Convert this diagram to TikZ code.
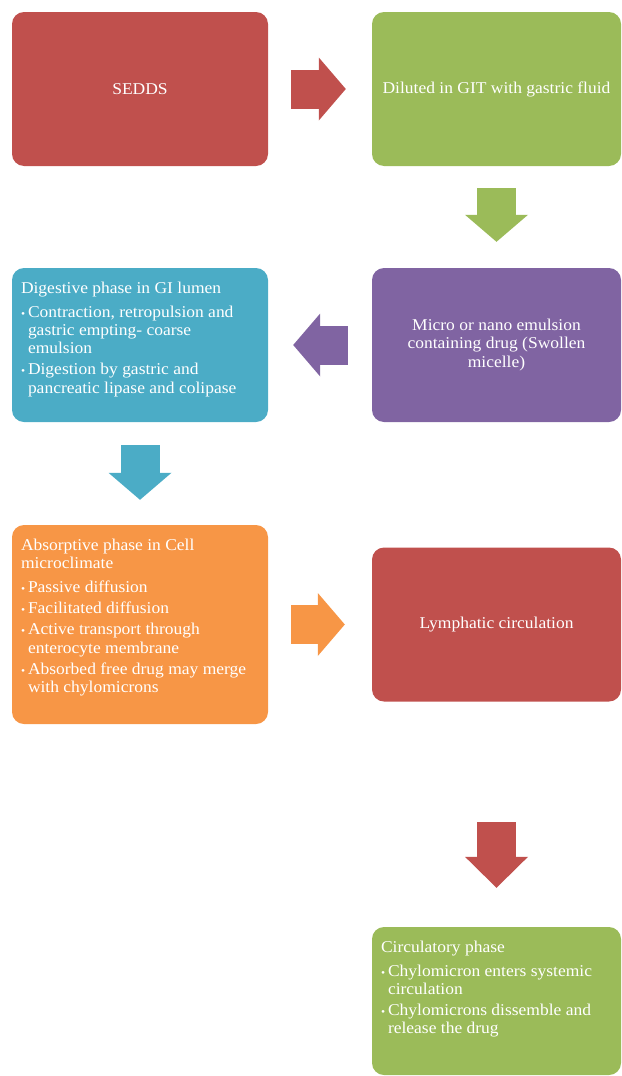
\documentclass[tikz,border=0pt]{standalone}
\usepackage{fontspec}
\setmainfont{Liberation Serif}[FakeStretch=1.06]
\usetikzlibrary{arrows.meta,calc}

\definecolor{phred}{HTML}{C0504D}
\definecolor{phgreen}{HTML}{9BBB59}
\definecolor{phblue}{HTML}{4BACC6}
\definecolor{phpurple}{HTML}{8064A2}
\definecolor{phorange}{HTML}{F79646}

% heading and bullet lines inside the phase boxes
\newcommand{\phead}[1]{\strut #1\par\vspace{2.7pt}}
\newcommand{\pitem}{\par\vspace{3pt}\hangindent=7pt\hangafter=1\noindent\makebox[7pt][l]{\fontsize{11}{11}\selectfont\textbullet}}

\begin{document}
\begin{tikzpicture}[x=1pt, y=-1pt,
    phase/.style={rounded corners=12pt, inner sep=0pt, text=white, align=center,
        font=\fontsize{16.5}{18.3}\selectfont},
    lbox/.style={phase, minimum width=256pt, minimum height=154pt},
    rbox/.style={phase, minimum width=249pt, minimum height=154pt},
    txtbox/.style={phase, inner xsep=9pt, inner ysep=12.2pt},
    blk/.style={line width=39pt, -{Triangle[length=27pt, width=63pt, line width=0pt]}}
]
\useasboundingbox (0,0) rectangle (621,1076);

\node[lbox, fill=phred] (sedds) at (140,89) {SEDDS};
\node[rbox, fill=phgreen] (dilut) at (496.5,89) {Diluted in GIT with gastric fluid};
\node[txtbox, fill=phblue] (digest) at (140,345) {\parbox[t][129.6pt][t]{238pt}{
    \phead{Digestive phase in GI lumen}
    \pitem Contraction, retropulsion and\newline gastric empting- coarse\newline emulsion
    \pitem Digestion by gastric and\newline pancreatic lipase and colipase}};
\node[rbox, fill=phpurple] (emuls) at (496.5,345) {Micro or nano emulsion\\containing drug (Swollen\\micelle)};
\node[txtbox, fill=phorange] (absorb) at (140,624.5) {\parbox[t][174.6pt][t]{238pt}{
    \phead{Absorptive phase in Cell\newline microclimate}
    \pitem Passive diffusion
    \pitem Facilitated diffusion
    \pitem Active transport through\newline enterocyte membrane
    \pitem Absorbed free drug may merge\newline with chylomicrons}};
\node[rbox, fill=phred] (lymph) at (496.5,624.5) {Lymphatic circulation};
\node[txtbox, fill=phgreen] (circ) at (496.5,1001) {\parbox[t][123.6pt][t]{231pt}{
    \phead{Circulatory phase}
    \pitem Chylomicron enters systemic\newline circulation
    \pitem Chylomicrons dissemble and\newline release the drug}};

\draw[blk, phred, shorten <=23pt, shorten >=26pt] (sedds) -- (dilut);
\draw[blk, phgreen, shorten <=22pt, shorten >=26pt] (dilut) -- (emuls);
\draw[blk, phpurple, shorten <=24pt, shorten >=25pt] (emuls) -- (digest);
\draw[blk, phblue, shorten <=23pt, shorten >=25pt] (digest) -- (absorb);
\draw[blk, phorange, shorten <=23pt, shorten >=27pt] (absorb) -- (lymph);
\draw[blk, phred, -{Triangle[length=31pt, width=63pt, line width=0pt]},
    shorten <=120.5pt, shorten >=39pt] (lymph) -- (circ);
\end{tikzpicture}
\end{document}
